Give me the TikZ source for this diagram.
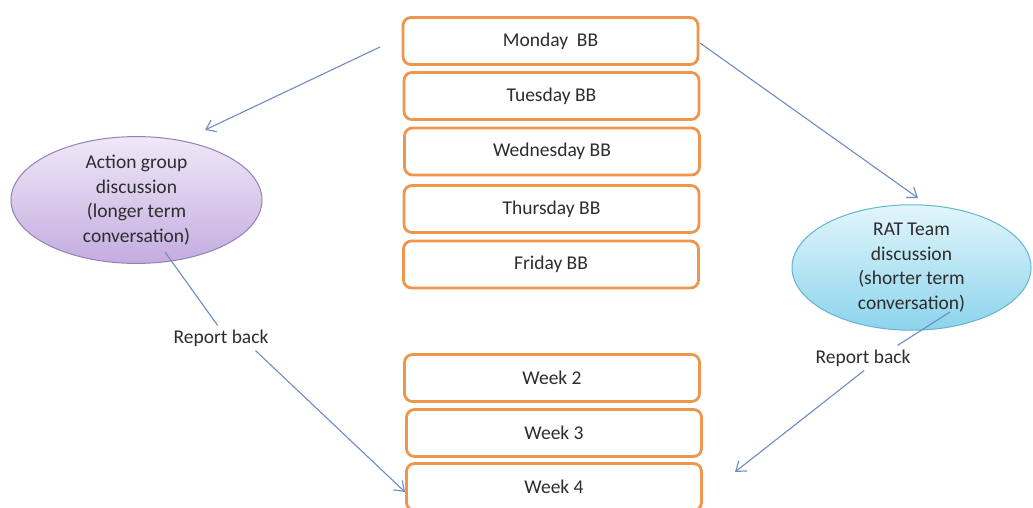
\documentclass[tikz,border=0pt]{standalone}
\usepackage{fontspec}
\setmainfont{Carlito}
\usetikzlibrary{shapes.geometric,arrows.meta}
\definecolor{boxorange}{RGB}{240,150,76}
\definecolor{linkblue}{RGB}{110,140,195}
\definecolor{textgray}{RGB}{45,45,45}
\definecolor{lilactop}{RGB}{240,232,248}
\definecolor{lilacbot}{RGB}{196,172,224}
\definecolor{lilacedge}{RGB}{150,128,180}
\definecolor{skytop}{RGB}{226,246,252}
\definecolor{skybot}{RGB}{140,212,236}
\definecolor{skyedge}{RGB}{100,180,210}
\tikzset{
  daybox/.style={draw=boxorange, line width=2.8pt, rounded corners=8pt, fill=white,
    minimum width=295pt, minimum height=47pt, inner sep=0pt,
    font=\fontsize{19.5}{22}\selectfont, text=textgray},
  talk/.style={ellipse, inner sep=0pt, align=center, line width=1pt,
    font=\fontsize{19.5}{24.5}\selectfont, text=textgray},
  link/.style={draw=linkblue, line width=1.1pt},
  arrowlink/.style={link, -{Straight Barb[length=9pt,width=13pt,line width=1.1pt]}},
  tag/.style={font=\fontsize{19.5}{22}\selectfont, text=textgray, inner sep=4pt}
}
\begin{document}
\begin{tikzpicture}[x=1pt,y=-1pt]
  \useasboundingbox (0,0) rectangle (1033,508);
  \fill[white] (0,0) rectangle (1033,508);

  % daily bulletin boxes
  \node[daybox] (mon) at (550.5,41)  {Monday\ \ BB};
  \node[daybox] (tue) at (551.5,96)  {Tuesday BB};
  \node[daybox] (wed) at (552,151.5) {Wednesday BB};
  \node[daybox] (thu) at (551.5,209) {Thursday BB};
  \node[daybox] (fri) at (551,264.5) {Friday BB};

  % weekly boxes
  \node[daybox] (w2) at (552,378) {Week 2};
  \node[daybox] (w3) at (554,433) {Week 3};
  \node[daybox] (w4) at (554,487) {Week 4};

  % discussion groups
  \node[talk, minimum width=251pt, minimum height=120pt,
        top color=lilactop, bottom color=lilacbot, draw=lilacedge]
        (act) at (136.5,200)
        {Action group\\discussion\\(longer term\\conversation)};
  \node[talk, minimum width=239pt, minimum height=115pt,
        top color=skytop, bottom color=skybot, draw=skyedge]
        (rat) at (911.5,267.5)
        {RAT Team\\discussion\\(shorter term\\conversation)};

  % connector end points
  \coordinate (monL) at (380,47);
  \coordinate (actIn) at (205,130);
  \coordinate (monR) at (700,43);
  \coordinate (ratIn) at (918,198);
  \coordinate (actOut) at (165,252);
  \coordinate (w4L) at (405,492);
  \coordinate (ratOut) at (950,312);
  \coordinate (w4R) at (735,472);

  % report labels
  \node[tag] (repL) at (221,338) {Report back};
  \node[tag] (repR) at (863,358) {Report back};

  % connectors
  \draw[arrowlink] (monL) -- (actIn);
  \draw[arrowlink] (monR) -- (ratIn);
  \draw[link] (actOut) -- (repL.105);
  \draw[arrowlink] (repL.-20) -- (w4L);
  \draw[link] (ratOut) -- (repR.20);
  \draw[arrowlink] (repR.-85) -- (w4R);
\end{tikzpicture}
\end{document}
